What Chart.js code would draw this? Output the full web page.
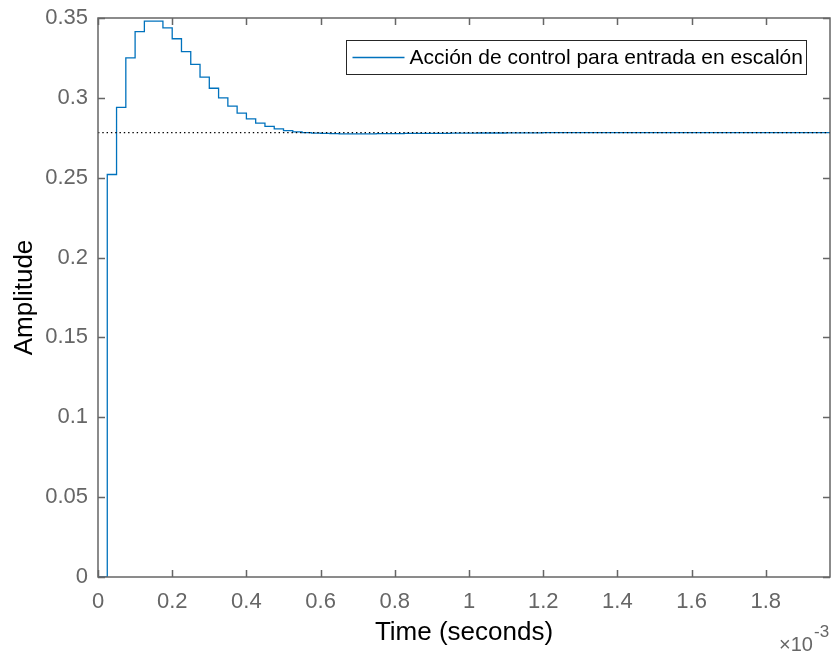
<!DOCTYPE html>
<html>
<head>
<meta charset="utf-8">
<script src="https://cdn.jsdelivr.net/npm/chart.js@4/dist/chart.umd.min.js"></script>
<style>
  html, body { margin: 0; padding: 0; background: #fff; }
  #wrap { width: 831px; height: 652px; }
</style>
</head>
<body>
<div id="wrap"><canvas id="chart" width="831" height="652"></canvas></div>
<script>
// time in units of 1e-3 s (sample period 25 us)
const timeMs = [
  0.000, 0.025, 0.050, 0.075, 0.100, 0.125, 0.150, 0.175, 0.200, 0.225,
  0.250, 0.275, 0.300, 0.325, 0.350, 0.375, 0.400, 0.425, 0.450, 0.475,
  0.500, 0.525, 0.550, 0.575, 0.600, 0.625, 0.650, 0.675, 0.700, 0.725,
  0.750, 0.775, 0.800, 0.825, 0.850, 0.875, 0.900, 0.925, 0.950, 0.975,
  1.000, 1.025, 1.050, 1.075, 1.100, 1.125, 1.150, 1.175, 1.200, 1.225,
  1.250, 1.275, 1.300, 1.325, 1.350, 1.375, 1.400, 1.425, 1.450, 1.475,
  1.500, 1.525, 1.550, 1.575, 1.600, 1.625, 1.650, 1.675, 1.700, 1.725,
  1.750, 1.775, 1.800, 1.825, 1.850, 1.875, 1.900, 1.925, 1.950, 1.975
];
const controlAction = [
  0.0000, 0.2520, 0.2940, 0.3250, 0.3415, 0.3480, 0.3480, 0.3438, 0.3370, 0.3290,
  0.3210, 0.3130, 0.3060, 0.3000, 0.2948, 0.2904, 0.2869, 0.2842, 0.2821, 0.2806,
  0.2795, 0.2787, 0.2782, 0.2779, 0.2777, 0.2776, 0.2775, 0.2775, 0.2775, 0.2775,
  0.2776, 0.2776, 0.2776, 0.2777, 0.2777, 0.2778, 0.2778, 0.2778, 0.2779, 0.2779,
  0.2779, 0.2780, 0.2780, 0.2780, 0.2781, 0.2781, 0.2781, 0.2781, 0.2782, 0.2782,
  0.2782, 0.2782, 0.2782, 0.2782, 0.2782, 0.2782, 0.2782, 0.2782, 0.2782, 0.2782,
  0.2782, 0.2782, 0.2782, 0.2782, 0.2782, 0.2782, 0.2782, 0.2782, 0.2782, 0.2782,
  0.2782, 0.2782, 0.2782, 0.2782, 0.2782, 0.2782, 0.2782, 0.2782, 0.2782, 0.2782
];
const steadyState = 0.2782;
const xTicks = [0, 0.2, 0.4, 0.6, 0.8, 1, 1.2, 1.4, 1.6, 1.8];
const yTicks = [0, 0.05, 0.1, 0.15, 0.2, 0.25, 0.3, 0.35];
const xMax = 1.973;
const legendLabel = 'Acción de control para entrada en escalón';

const FONT = 'Arial, "Liberation Sans", Helvetica, sans-serif';
const axisColor = '#666666';
const lineBlue = '#0072BD';

Chart.defaults.font.family = FONT;

// matlab style labels: 0.3 not 0.30, 1 not 1.0
const fmt = v => String(+Number(v).toFixed(4));

const matlabAxes = {
  id: 'matlabAxes',
  afterDatasetsDraw(chart) {
    const { ctx, chartArea: a, scales: { x, y } } = chart;
    ctx.save();
    ctx.strokeStyle = axisColor;
    ctx.lineWidth = 1.5;
    ctx.strokeRect(a.left, a.top, a.right - a.left, a.bottom - a.top);
    ctx.beginPath();
    x.ticks.forEach(t => {
      const px = Math.round(x.getPixelForValue(t.value)) + 0.5;
      ctx.moveTo(px, a.bottom); ctx.lineTo(px, a.bottom - 7);
      ctx.moveTo(px, a.top); ctx.lineTo(px, a.top + 7);
    });
    y.ticks.forEach(t => {
      const py = Math.round(y.getPixelForValue(t.value)) + 0.5;
      ctx.moveTo(a.left, py); ctx.lineTo(a.left + 7, py);
      ctx.moveTo(a.right, py); ctx.lineTo(a.right - 7, py);
    });
    ctx.stroke();
    ctx.restore();
  },
  afterDraw(chart) {
    const { ctx, chartArea: a } = chart;
    ctx.save();
    // legend box
    const bx = a.right - 483.5, by = a.top + 22.5, bw = 460, bh = 34;
    ctx.fillStyle = '#fff';
    ctx.fillRect(bx, by, bw, bh);
    ctx.strokeStyle = '#262626';
    ctx.lineWidth = 1;
    ctx.strokeRect(bx, by, bw, bh);
    ctx.strokeStyle = lineBlue;
    ctx.lineWidth = 1.3;
    ctx.beginPath();
    ctx.moveTo(bx + 6, by + 17); ctx.lineTo(bx + 58, by + 17);
    ctx.stroke();
    ctx.fillStyle = '#000';
    ctx.font = '21px ' + FONT;
    ctx.textBaseline = 'middle';
    ctx.textAlign = 'left';
    ctx.fillText(legendLabel, bx + 63, by + 18);
    // exponent label
    ctx.fillStyle = axisColor;
    ctx.textBaseline = 'alphabetic';
    ctx.font = '20px ' + FONT;
    ctx.fillText('\u00d710', 779, 651);
    ctx.font = '17px ' + FONT;
    ctx.fillText('-3', 814, 637);
    ctx.restore();
  }
};

new Chart(document.getElementById('chart'), {
  type: 'line',
  data: {
    datasets: [
      {
        label: 'steady',
        data: [{ x: 0, y: steadyState }, { x: timeMs[timeMs.length - 1], y: steadyState }],
        borderColor: '#000',
        borderWidth: 1.3,
        borderDash: [1.4, 2.9],
        pointRadius: 0,
        order: 0,
      },
      {
        label: legendLabel,
        data: timeMs.map((t, i) => ({ x: t, y: controlAction[i] })),
        borderColor: lineBlue,
        borderWidth: 1.3,
        stepped: true,
        pointRadius: 0,
        order: 1,
      },
    ]
  },
  options: {
    responsive: false,
    animation: false,
    layout: { padding: { left: 0, top: 18, right: 1, bottom: 0 } },
    plugins: { legend: { display: false }, tooltip: { enabled: false } },
    scales: {
      x: {
        type: 'linear', min: 0, max: xMax,
        afterBuildTicks: s => { s.ticks = xTicks.map(v => ({ value: v })); },
        afterFit: s => { s.height = 75; s.paddingLeft = 0; s.paddingRight = 0; },
        grid: { display: false, drawTicks: false },
        border: { display: false },
        ticks: { color: axisColor, font: { size: 22 }, padding: 12, maxRotation: 0, autoSkip: false, callback: fmt },
        title: { display: true, text: 'Time (seconds)', color: '#000', font: { size: 26 }, padding: { top: 0, bottom: 4 } },
      },
      y: {
        min: 0, max: 0.35,
        afterBuildTicks: s => { s.ticks = yTicks.map(v => ({ value: v })); },
        afterFit: s => { s.width = 98; s.paddingTop = 0; s.paddingBottom = 0; },
        grid: { display: false, drawTicks: false },
        border: { display: false },
        ticks: { color: axisColor, font: { size: 22 }, padding: 10, autoSkip: false, callback: fmt },
        title: { display: true, text: 'Amplitude', color: '#000', font: { size: 26 }, padding: { top: 9, bottom: 0 } },
      }
    }
  },
  plugins: [matlabAxes]
});
</script>
</body>
</html>
